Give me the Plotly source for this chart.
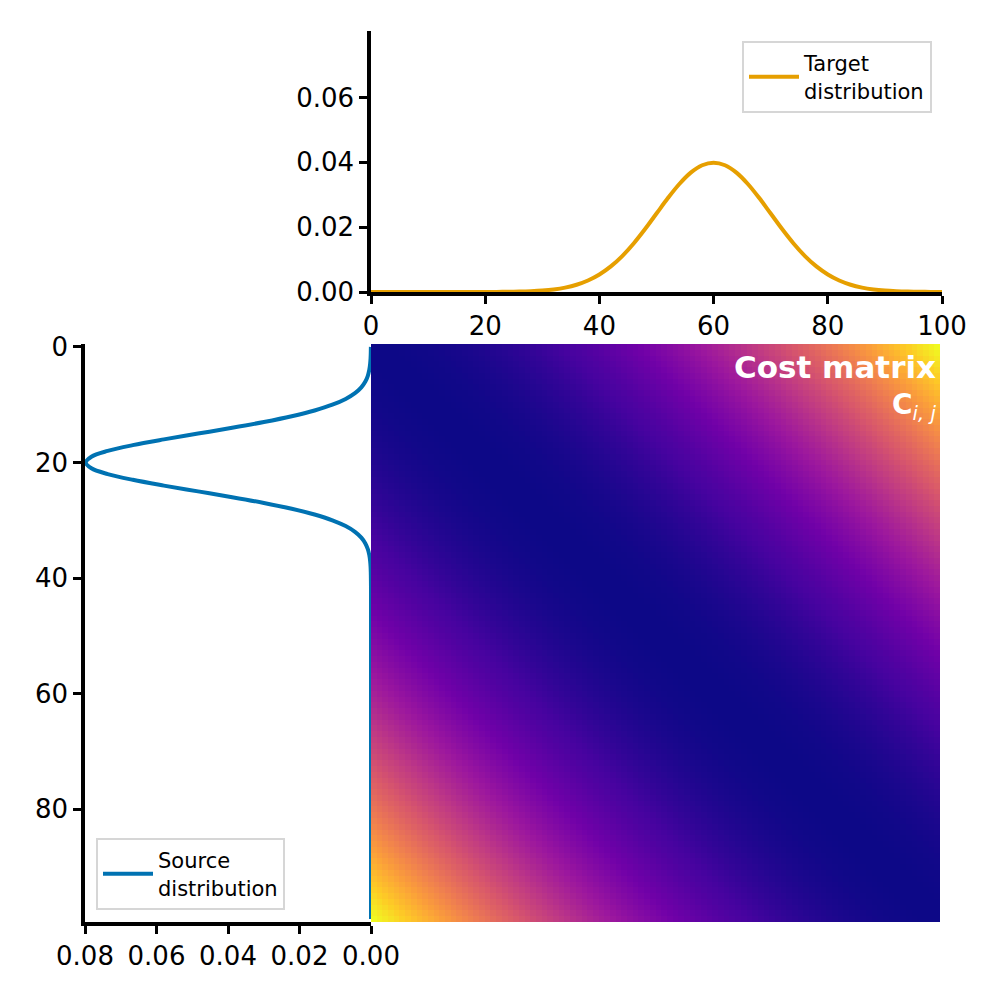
import plotly.graph_objects as go

# target distribution (top panel), sampled every 2 units
target_x = list(range(0, 101, 2))
target_density = [0, 0, 0, 0, 0, 0, 0, 0, 0, 0,
                  0.00001, 0.00003, 0.00006, 0.00012, 0.00024, 0.00044, 0.00079,
                  0.00136, 0.00224, 0.00355, 0.00540, 0.00789, 0.01109, 0.01497,
                  0.01942, 0.02420, 0.02897, 0.03332, 0.03683, 0.03910, 0.03989,
                  0.03910, 0.03683, 0.03332, 0.02897, 0.02420, 0.01942, 0.01497,
                  0.01109, 0.00789, 0.00540, 0.00355, 0.00224, 0.00136, 0.00079,
                  0.00044, 0.00024, 0.00012, 0.00006, 0.00003, 0.00001]

# source distribution (left panel), one value per bin
source_bins = list(range(100))
source_density = [0.00003, 0.00006, 0.00012, 0.00025, 0.00048, 0.00089, 0.00158,
                  0.00271, 0.00448, 0.00709, 0.01080, 0.01579, 0.02218, 0.02995,
                  0.03884, 0.04839, 0.05794, 0.06665, 0.07365, 0.07821, 0.07979,
                  0.07821, 0.07365, 0.06665, 0.05794, 0.04839, 0.03884, 0.02995,
                  0.02218, 0.01579, 0.01080, 0.00709, 0.00448, 0.00271, 0.00158,
                  0.00089, 0.00048, 0.00025, 0.00012, 0.00006, 0.00003, 0.00001] + [0.0] * 58

# cost matrix: squared distance between bins
cost = [[(i - j) ** 2 for j in source_bins] for i in source_bins]

ORANGE = '#E69F00'
BLUE = '#0072B2'
FONT = 'DejaVu Sans'

fig = go.Figure()

fig.add_trace(go.Heatmap(z=cost, x=source_bins, y=source_bins,
                         colorscale='Plasma', showscale=False, showlegend=False,
                         xaxis='x3', yaxis='y2'))

fig.add_trace(go.Scatter(x=target_x, y=target_density, mode='lines',
                         line=dict(color=ORANGE, width=4, shape='spline'),
                         name='Target<br>distribution', showlegend=True,
                         xaxis='x', yaxis='y', legend='legend'))

fig.add_trace(go.Scatter(x=source_density, y=source_bins, mode='lines',
                         line=dict(color=BLUE, width=4, shape='spline'),
                         name='Source<br>distribution', showlegend=True,
                         xaxis='x2', yaxis='y2', legend='legend2'))

axis_common = dict(showline=True, linecolor='black', linewidth=3.5,
                   ticks='outside', ticklen=8, tickwidth=2.5, tickcolor='black',
                   showgrid=False, zeroline=False, automargin=False,
                   tickfont=dict(family=FONT, size=26, color='black'))

legend_style = dict(bgcolor='white', bordercolor='#d6d6d6', borderwidth=2,
                    itemwidth=50,
                    font=dict(family=FONT, size=21, color='black'))

fig.update_layout(
    width=1000, height=1000,
    margin=dict(l=0, r=0, t=0, b=0, pad=0, autoexpand=False),
    paper_bgcolor='white', plot_bgcolor='white',
    font=dict(family=FONT, color='black'),
    showlegend=True,
    xaxis=dict(domain=[0.363, 0.934], range=[0, 100], anchor='y',
               tickvals=[0, 20, 40, 60, 80, 100], **axis_common),
    yaxis=dict(domain=[0.716, 0.977], range=[0, 0.0805], anchor='x',
               tickvals=[0, 0.02, 0.04, 0.06], tickformat='.2f', **axis_common),
    xaxis2=dict(domain=[0.077, 0.363], range=[0.08, 0], anchor='y2',
                tickvals=[0.08, 0.06, 0.04, 0.02, 0], tickformat='.2f', **axis_common),
    yaxis2=dict(domain=[0.086, 0.664], range=[99.5, -0.5], anchor='x2',
                tickvals=[0, 20, 40, 60, 80], **axis_common),
    xaxis3=dict(domain=[0.363, 0.932], range=[-0.5, 99.5], anchor='y2',
                visible=False),
    legend=dict(x=0.924, y=0.967, xanchor='right', yanchor='top', **legend_style),
    legend2=dict(x=0.088, y=0.098, xanchor='left', yanchor='bottom', **legend_style),
    annotations=[
        dict(text='<b>Cost matrix</b>', xref='paper', yref='paper',
             x=0.930, y=0.641, xanchor='right', yanchor='middle', showarrow=False,
             font=dict(family=FONT, size=31, color='white')),
        dict(text='<b>C</b><sub><i>i, j</i></sub>', xref='paper', yref='paper',
             x=0.930, y=0.602, xanchor='right', yanchor='middle', showarrow=False,
             font=dict(family=FONT, size=28, color='white')),
    ],
)

fig.write_html('out.html')
